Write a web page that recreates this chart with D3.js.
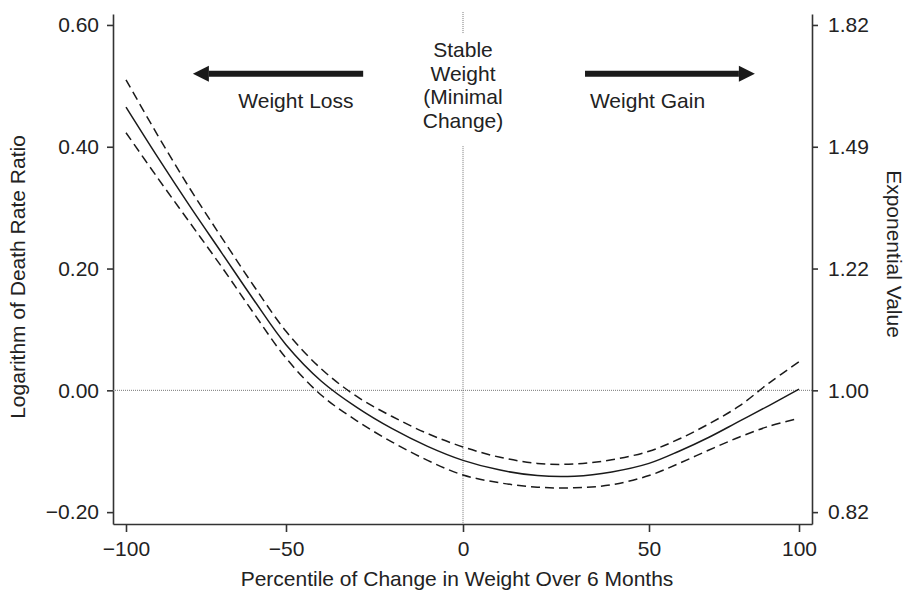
<html>
<head>
    <meta charset="utf-8" />
    <title>Weight change and death rate</title>
    <script src="https://d3js.org/d3.v7.min.js"></script>
    <style>
        body {
            margin: 0;
            background: #fff;
            font-family: "Liberation Sans", Arial, Helvetica, sans-serif;
        }

        .axis text {
            font-size: 21px;
            fill: #222;
            font-family: "Liberation Sans", Arial, Helvetica, sans-serif;
        }

        .axis path,
        .axis line {
            stroke: #333;
            stroke-width: 1.6;
        }

        .labels {
            font-size: 21px;
            fill: #222;
        }
    </style>
</head>

<body>
    <svg id="chart" width="905" height="591"></svg>
    <script>
        // percentile of weight change (x) and log death rate ratio curves
        const pct = [-100, -90, -80, -70, -60, -50, -40, -30, -20, -10, 0, 10, 20, 30, 40, 50, 60, 70, 80, 90, 100]
        const estimate = [0.465, 0.382, 0.302, 0.225, 0.148, 0.075, 0.015, -0.028, -0.063, -0.092, -0.115,
            -0.131, -0.140, -0.141, -0.134, -0.120, -0.100, -0.077, -0.051, -0.025, 0.002]
        const upperCI = [0.510, 0.418, 0.331, 0.250, 0.171, 0.097, 0.035, -0.010, -0.043, -0.071, -0.093,
            -0.110, -0.120, -0.121, -0.114, -0.100, -0.080, -0.055, -0.026, 0.012, 0.047]
        const lowerCI = [0.423, 0.348, 0.275, 0.202, 0.126, 0.053, -0.008, -0.050, -0.085, -0.115, -0.139,
            -0.152, -0.159, -0.160, -0.155, -0.140, -0.120, -0.098, -0.077, -0.059, -0.046]

        const xTicks = [-100, -50, 0, 50, 100]
        const yTicks = [-0.2, 0, 0.2, 0.4, 0.6]
        const expTickLabels = ["0.82", "1.00", "1.22", "1.49", "1.82"]

        // annotations in data units
        const arrows = [
            { from: -28.2, to: -79.1, y: 0.52 },
            { from: 32.8, to: 85.3, y: 0.52 }
        ]
        const sideLabels = [
            { text: "Weight Loss", x: -47.2, y: 0.4636 },
            { text: "Weight Gain", x: 49.6, y: 0.4636 }
        ]
        const stableLines = ["Stable", "Weight", "(Minimal", "Change)"]

        const svg = d3.select("svg#chart")

        // the printed axis is not evenly spaced, so the scale follows its ticks
        const x = d3.scaleLinear()
            .domain([-104.06, -100, -50, 0, 50, 100, 104.33])
            .range([113, 126, 286, 463, 649, 799, 812])
        const y = d3.scaleLinear().domain([-0.2195, 0.618]).range([524, 14])

        const fmt = d3.format(".2f")

        svg.append("g").attr("class", "x axis")
            .attr("transform", `translate(0, ${y.range()[0]})`)
            .call(d3.axisBottom(x).tickValues(xTicks).tickSize(8).tickSizeOuter(0).tickPadding(9)
                .tickFormat(d3.format("d")))

        svg.append("g").attr("class", "y axis")
            .attr("transform", `translate(${x.range()[0]}, 0)`)
            .call(d3.axisLeft(y).tickValues(yTicks).tickSize(6).tickSizeOuter(0).tickPadding(8)
                .tickFormat(fmt))

        svg.append("g").attr("class", "y2 axis")
            .attr("transform", `translate(${x.range()[x.range().length - 1]}, 0)`)
            .call(d3.axisRight(y).tickValues(yTicks).tickSize(6).tickSizeOuter(0).tickPadding(10)
                .tickFormat((d, i) => expTickLabels[i]))

        svg.selectAll(".axis text").attr("font-family", null)

        // reference lines
        const refs = svg.append("g").attr("id", "refs")
        refs.append("line")
            .attr("x1", x.range()[0]).attr("x2", x.range()[x.range().length - 1])
            .attr("y1", y(0)).attr("y2", y(0))
            .attr("stroke", "#777").attr("stroke-width", 1).attr("stroke-dasharray", "1,1")
        refs.selectAll("line.vert").data([[0.6212, 0.5867], [0.401, -0.2195]])
            .join("line").attr("class", "vert")
            .attr("x1", x(0)).attr("x2", x(0))
            .attr("y1", d => y(d[0])).attr("y2", d => y(d[1]))
            .attr("stroke", "#777").attr("stroke-width", 1).attr("stroke-dasharray", "1,1")

        // curves
        const rows = pct.map((p, i) => ({ p, est: estimate[i], hi: upperCI[i], lo: lowerCI[i] }))
        const lineGen = key => d3.line().x(d => x(d.p)).y(d => y(d[key])).curve(d3.curveCatmullRom.alpha(0.5))

        const curves = svg.append("g").attr("id", "curves")
        curves.selectAll("path").data([
                { key: "hi", dash: "9,5" },
                { key: "lo", dash: "9,5" },
                { key: "est", dash: null }
            ])
            .join("path")
            .attr("d", d => lineGen(d.key)(rows))
            .attr("fill", "none")
            .attr("stroke", "#1a1a1a")
            .attr("stroke-width", 1.5)
            .attr("stroke-dasharray", d => d.dash)

        // arrows
        const arrowG = svg.append("g").attr("id", "arrows")
        arrows.forEach(a => {
            const dir = Math.sign(x(a.to) - x(a.from))
            const tip = x(a.to)
            const yy = y(a.y)
            const headLen = 16, headHalf = 8
            arrowG.append("line")
                .attr("x1", x(a.from)).attr("x2", tip - dir * headLen)
                .attr("y1", yy).attr("y2", yy)
                .attr("stroke", "#1a1a1a").attr("stroke-width", 6)
            arrowG.append("path")
                .attr("d", `M${tip},${yy} L${tip - dir * headLen},${yy - headHalf} L${tip - dir * headLen},${yy + headHalf} Z`)
                .attr("fill", "#1a1a1a")
        })

        const labelG = svg.append("g").attr("id", "labels")
        labelG.selectAll("text.side").data(sideLabels)
            .join("text").attr("class", "labels side")
            .attr("x", d => x(d.x)).attr("y", d => y(d.y))
            .attr("text-anchor", "middle")
            .text(d => d.text)

        labelG.selectAll("text.stable").data(stableLines)
            .join("text").attr("class", "labels stable")
            .attr("x", x(0))
            .attr("y", (d, i) => 57 + i * 23.7)
            .attr("text-anchor", "middle")
            .text(d => d)

        // axis titles
        labelG.append("text").attr("class", "labels")
            .attr("transform", "translate(25, 277) rotate(-90)")
            .attr("text-anchor", "middle")
            .text("Logarithm of Death Rate Ratio")

        labelG.append("text").attr("class", "labels")
            .attr("transform", "translate(887, 254) rotate(90)")
            .attr("text-anchor", "middle")
            .text("Exponential Value")

        labelG.append("text").attr("class", "labels")
            .attr("x", 457).attr("y", 586)
            .attr("text-anchor", "middle")
            .text("Percentile of Change in Weight Over 6 Months")
    </script>
</body>

</html>
